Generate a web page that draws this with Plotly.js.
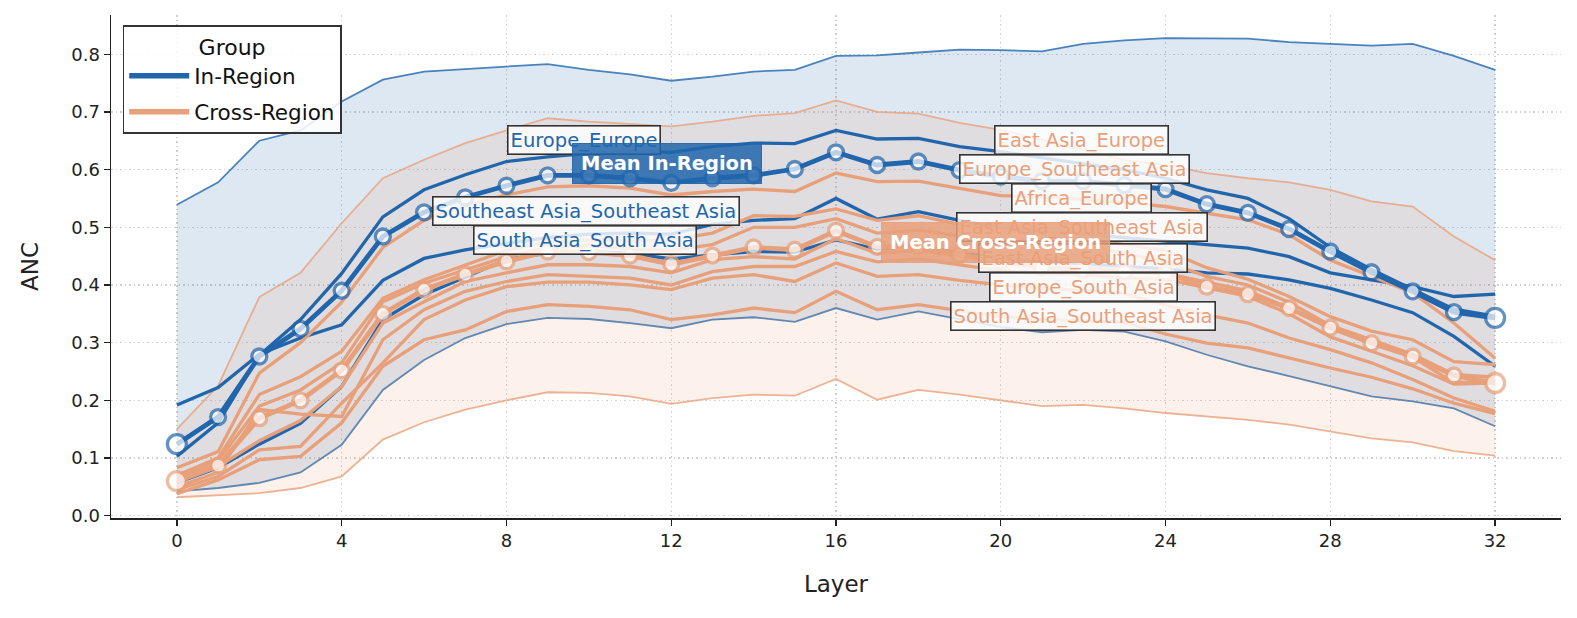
<!DOCTYPE html>
<html>
<head>
<meta charset="utf-8">
<script src="https://cdn.plot.ly/plotly-3.0.1.min.js"></script>
<style>
  html, body { margin: 0; padding: 0; background: #fff; }
  #chart { width: 1577px; height: 618px; }
</style>
</head>
<body>
<div id="chart"></div>
<script>
// layers 0..32
const layers = [0,1,2,3,4,5,6,7,8,9,10,11,12,13,14,15,16,17,18,19,20,21,22,23,24,25,26,27,28,29,30,31,32];

// In-Region pairs
const europeEurope = [0.103,0.161,0.278,0.340,0.420,0.518,0.565,0.591,0.614,0.622,0.628,0.632,0.630,0.640,0.646,0.645,0.668,0.653,0.654,0.640,0.631,0.620,0.610,0.600,0.585,0.565,0.550,0.515,0.465,0.427,0.393,0.358,0.346];
const seaSea = [0.192,0.222,0.280,0.308,0.331,0.408,0.446,0.461,0.472,0.482,0.488,0.490,0.488,0.505,0.512,0.515,0.550,0.514,0.527,0.512,0.500,0.492,0.488,0.482,0.475,0.470,0.464,0.449,0.421,0.409,0.397,0.380,0.384];
const saSa = [0.057,0.083,0.124,0.160,0.224,0.340,0.383,0.413,0.444,0.455,0.458,0.455,0.445,0.452,0.458,0.457,0.478,0.462,0.468,0.455,0.447,0.440,0.437,0.433,0.428,0.421,0.419,0.409,0.394,0.374,0.352,0.311,0.259];

// Cross-Region pairs
const eastAsiaEurope = [0.083,0.111,0.247,0.300,0.370,0.465,0.512,0.537,0.556,0.570,0.572,0.568,0.556,0.562,0.566,0.562,0.594,0.579,0.580,0.567,0.555,0.553,0.548,0.543,0.536,0.525,0.513,0.487,0.443,0.415,0.386,0.334,0.273];
const europeSea = [0.070,0.100,0.210,0.241,0.285,0.377,0.409,0.435,0.460,0.475,0.478,0.476,0.478,0.490,0.520,0.519,0.532,0.512,0.520,0.505,0.495,0.490,0.480,0.470,0.460,0.430,0.410,0.380,0.345,0.320,0.305,0.267,0.262];
const africaEurope = [0.065,0.095,0.190,0.218,0.265,0.371,0.403,0.426,0.449,0.465,0.468,0.462,0.460,0.470,0.500,0.500,0.515,0.490,0.495,0.485,0.480,0.470,0.468,0.455,0.440,0.415,0.400,0.370,0.330,0.305,0.280,0.245,0.240];
const eastAsiaSea = [0.058,0.085,0.130,0.165,0.224,0.334,0.371,0.406,0.421,0.435,0.435,0.432,0.421,0.444,0.449,0.445,0.480,0.455,0.460,0.450,0.440,0.430,0.430,0.425,0.420,0.405,0.390,0.360,0.325,0.300,0.275,0.230,0.235];
const eastAsiaSouthAsia = [0.050,0.075,0.184,0.176,0.172,0.305,0.357,0.389,0.406,0.418,0.415,0.412,0.400,0.423,0.432,0.432,0.458,0.440,0.445,0.435,0.425,0.420,0.418,0.412,0.410,0.395,0.380,0.350,0.310,0.285,0.260,0.228,0.230];
const europeSouthAsia = [0.045,0.068,0.114,0.120,0.195,0.265,0.340,0.374,0.397,0.405,0.405,0.400,0.392,0.412,0.418,0.406,0.438,0.415,0.418,0.408,0.400,0.395,0.390,0.385,0.365,0.348,0.334,0.308,0.288,0.265,0.236,0.204,0.181];
const saSea = [0.038,0.062,0.097,0.103,0.161,0.259,0.305,0.322,0.354,0.366,0.363,0.357,0.340,0.348,0.360,0.352,0.389,0.357,0.366,0.356,0.345,0.340,0.337,0.335,0.315,0.299,0.291,0.273,0.256,0.240,0.220,0.195,0.177];

// group means
const meanIn = [0.124,0.171,0.276,0.324,0.390,0.484,0.526,0.552,0.572,0.590,0.590,0.585,0.577,0.585,0.590,0.601,0.630,0.608,0.614,0.599,0.588,0.580,0.580,0.573,0.566,0.540,0.525,0.497,0.458,0.422,0.389,0.353,0.343];
const meanCross = [0.060,0.087,0.169,0.200,0.252,0.350,0.392,0.418,0.441,0.458,0.457,0.451,0.436,0.451,0.465,0.461,0.494,0.466,0.467,0.452,0.441,0.430,0.426,0.423,0.421,0.397,0.384,0.360,0.326,0.299,0.276,0.243,0.230];

// spread bands
const inUpper = [0.539,0.578,0.650,0.668,0.718,0.756,0.770,0.774,0.778,0.783,0.773,0.765,0.754,0.761,0.770,0.773,0.797,0.798,0.803,0.808,0.807,0.805,0.818,0.824,0.828,0.827,0.827,0.821,0.818,0.815,0.818,0.797,0.773];
const inLower = [0.042,0.048,0.057,0.075,0.123,0.218,0.270,0.308,0.332,0.343,0.341,0.334,0.325,0.340,0.344,0.336,0.360,0.340,0.354,0.340,0.327,0.318,0.322,0.319,0.302,0.279,0.259,0.242,0.224,0.207,0.198,0.186,0.155];
const crossUpper = [0.150,0.225,0.379,0.421,0.507,0.585,0.617,0.646,0.668,0.689,0.683,0.679,0.675,0.683,0.693,0.698,0.720,0.700,0.697,0.681,0.669,0.652,0.634,0.617,0.608,0.594,0.585,0.578,0.565,0.545,0.536,0.484,0.443];
const crossLower = [0.032,0.036,0.039,0.048,0.068,0.132,0.162,0.184,0.200,0.214,0.213,0.207,0.194,0.204,0.210,0.208,0.237,0.201,0.218,0.210,0.200,0.190,0.192,0.186,0.178,0.172,0.166,0.158,0.146,0.134,0.127,0.112,0.104];

const inPairs = [europeEurope, seaSea, saSa];
const crossPairs = [eastAsiaEurope, europeSea, africaEurope, eastAsiaSea, eastAsiaSouthAsia, europeSouthAsia, saSea];

const BLUE = '#2166ac';
const ORANGE = '#e8a07a';
const FONT = 'DejaVu Sans, Liberation Sans, sans-serif';

function band(lower, upper, rgb) {
    return [
        {x: layers, y: lower, type: 'scatter', mode: 'lines', showlegend: false, hoverinfo: 'skip',
         line: {color: `rgba(${rgb},0.8)`, width: 1.8}},
        {x: layers, y: upper, type: 'scatter', mode: 'lines', showlegend: false, hoverinfo: 'skip',
         fill: 'tonexty', fillcolor: `rgba(${rgb},0.15)`,
         line: {color: `rgba(${rgb},0.8)`, width: 1.8}},
    ];
}

function pairLine(vals, color) {
    return {x: layers, y: vals, type: 'scatter', mode: 'lines', showlegend: false,
            line: {color: color, width: 3.3}};
}

// bigger rings at first and last layer
let sizes = layers.map((l, i) => (i === 0 || i === layers.length - 1) ? 19 : 15);

function meanLine(vals, color) {
    return {x: layers, y: vals, type: 'scatter', mode: 'lines+markers', showlegend: false,
            line: {color: color, width: 4.8},
            marker: {symbol: 'circle', size: sizes, color: 'white', line: {color: color, width: 3.3}}};
}

let data = [];
data = data.concat(band(inLower, inUpper, '33,102,172'));
data = data.concat(band(crossLower, crossUpper, '232,160,122'));
inPairs.forEach(function(p){ data.push(pairLine(p, BLUE)) });
crossPairs.forEach(function(p){ data.push(pairLine(p, ORANGE)) });
data.push(meanLine(meanIn, BLUE));
data.push(meanLine(meanCross, ORANGE));

// legend entries
data.push({x: [null], y: [null], type: 'scatter', mode: 'lines', name: 'In-Region', legendgroup: 'in',
           line: {color: BLUE, width: 5.5}});
data.push({x: [null], y: [null], type: 'scatter', mode: 'lines', name: 'Cross-Region', legendgroup: 'cross',
           line: {color: ORANGE, width: 5.5}});

// pair labels
const labels = [
    {text: 'Europe_Europe', x: 9.88, y: 0.652, c: BLUE},
    {text: 'Southeast Asia_Southeast Asia', x: 9.93, y: 0.529, c: BLUE},
    {text: 'South Asia_South Asia', x: 9.9, y: 0.478, c: BLUE},
    {text: 'East Asia_Europe', x: 21.95, y: 0.652, c: ORANGE},
    {text: 'Europe_Southeast Asia', x: 21.8, y: 0.601, c: ORANGE},
    {text: 'Africa_Europe', x: 21.97, y: 0.551, c: ORANGE},
    {text: 'East Asia_Southeast Asia', x: 21.97, y: 0.501, c: ORANGE},
    {text: 'East Asia_South Asia', x: 21.99, y: 0.447, c: ORANGE},
    {text: 'Europe_South Asia', x: 22.0, y: 0.397, c: ORANGE},
    {text: 'South Asia_Southeast Asia', x: 22.0, y: 0.347, c: ORANGE},
];

let annotations = labels.map(function(a){
    return {x: a.x, y: a.y, xref: 'x', yref: 'y', text: a.text, showarrow: false,
            font: {family: FONT, size: 19.5, color: a.c},
            bgcolor: 'rgba(255,255,255,0.82)', bordercolor: '#333', borderwidth: 1.6, borderpad: 2};
});
annotations.push({x: 11.9, y: 0.610, xref: 'x', yref: 'y', text: '<b>Mean In-Region</b>', showarrow: false,
    font: {family: FONT, size: 19.5, color: 'white'},
    bgcolor: 'rgba(33,102,172,0.85)', bordercolor: 'rgba(33,102,172,0.9)', borderwidth: 1, borderpad: 8});
annotations.push({x: 19.86, y: 0.473, xref: 'x', yref: 'y', text: '<b>Mean Cross-Region</b>', showarrow: false,
    font: {family: FONT, size: 19.5, color: 'white'},
    bgcolor: 'rgba(232,160,122,0.85)', bordercolor: 'rgba(232,160,122,0.9)', borderwidth: 1, borderpad: 8});

let layout = {
    width: 1577,
    height: 618,
    margin: {l: 111, r: 16, t: 15, b: 100},
    paper_bgcolor: 'white',
    plot_bgcolor: 'white',
    font: {family: FONT, color: '#222', size: 18},
    showlegend: true,
    legend: {
        x: 0.008, y: 0.98, xanchor: 'left', yanchor: 'top',
        traceorder: 'grouped',
        bgcolor: 'rgba(255,255,255,0.85)', bordercolor: '#333', borderwidth: 1.6,
        font: {family: FONT, size: 21.5, color: '#111'},
        title: {text: 'Group', side: 'top center', font: {family: FONT, size: 22, color: '#111'}},
        itemwidth: 60,
        tracegroupgap: 5,
    },
    xaxis: {
        range: [-1.6, 33.6],
        tickmode: 'array',
        tickvals: [0,4,8,12,16,20,24,28,32],
        ticks: 'outside', ticklen: 6, tickwidth: 1.3, tickcolor: '#222',
        showline: true, linecolor: '#222', linewidth: 1.5,
        showgrid: true, gridcolor: '#d0d0d0', griddash: '1.5px,3px', gridwidth: 1.2,
        zeroline: false,
        tickfont: {size: 18},
        title: {text: 'Layer', font: {size: 23}, standoff: 26},
    },
    yaxis: {
        range: [-0.004, 0.868],
        tickmode: 'array',
        tickvals: [0,0.1,0.2,0.3,0.4,0.5,0.6,0.7,0.8],
        tickformat: '.1f',
        ticks: 'outside', ticklen: 6, tickwidth: 1.3, tickcolor: '#222',
        showline: true, linecolor: '#222', linewidth: 1.5,
        showgrid: true, gridcolor: '#d0d0d0', griddash: '1.5px,3px', gridwidth: 1.2,
        zeroline: false,
        tickfont: {size: 18},
        title: {text: 'ANC', font: {size: 23}, standoff: 26},
    },
    annotations: annotations,
};

Plotly.newPlot('chart', data, layout, {staticPlot: true});
</script>
</body>
</html>
